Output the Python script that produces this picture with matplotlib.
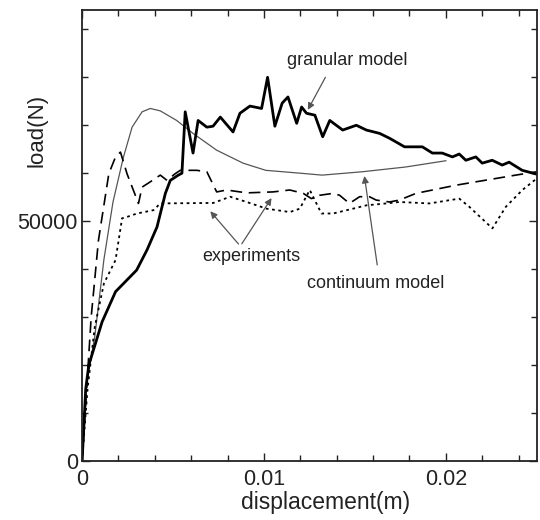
import numpy as np
import matplotlib
matplotlib.use("Agg")
import matplotlib.pyplot as plt
from matplotlib.ticker import MultipleLocator

plt.rcParams['font.family'] = ['Liberation Sans', 'DejaVu Sans']

# granular model (thick solid)
gran_x = [0, 0.0002, 0.00037, 0.0011, 0.00184, 0.0030, 0.00357, 0.00412, 0.00458, 0.00485,
          0.00529, 0.00549, 0.00567, 0.0061, 0.00638, 0.00686, 0.0072, 0.0076, 0.0083,
          0.00868, 0.00923, 0.00987, 0.0102, 0.0106, 0.0110, 0.01132, 0.0118, 0.01207,
          0.01234, 0.0128, 0.01323, 0.01362, 0.01433, 0.01508, 0.01563, 0.01636, 0.0169,
          0.01773, 0.01871, 0.01926, 0.0198, 0.02036, 0.02074, 0.0211, 0.02165, 0.022,
          0.02255, 0.0231, 0.02348, 0.0242, 0.025]
gran_y = [0, 15000, 20000, 29000, 35300, 39800, 44000, 48800, 55800, 58500,
          59600, 60000, 72800, 64200, 71000, 69600, 69800, 71700, 68600,
          72500, 74000, 73500, 80000, 69800, 74600, 75900, 70400, 73800,
          72500, 72100, 67600, 71000, 69000, 70000, 69000, 68300, 67300,
          65500, 65500, 64200, 64200, 63400, 64000, 62700, 63400, 62100,
          62700, 61700, 62300, 60600, 59800]

# continuum model (thin grey)
cont_x = [0, 0.0002, 0.0007, 0.0012, 0.0017, 0.00227, 0.00275, 0.0033, 0.00375, 0.0043,
          0.0052, 0.0061, 0.0074, 0.00885, 0.0101, 0.012, 0.0132, 0.0154, 0.0178, 0.020]
cont_y = [0, 15000, 26000, 42000, 54000, 63300, 69600, 72800, 73500, 73000,
          71000, 68300, 64800, 62100, 60600, 60000, 59600, 60300, 61300, 62600]

# experiment 1 (dashed)
exp1_x = [0, 0.0002, 0.0005, 0.0009, 0.00147, 0.00184, 0.00211, 0.00247, 0.0031, 0.0033,
          0.00375, 0.0043, 0.00467, 0.00512, 0.0054, 0.00631, 0.00686, 0.0074, 0.00795,
          0.00905, 0.0105, 0.01142, 0.01216, 0.01261, 0.01307, 0.0138, 0.01416, 0.0147,
          0.01526, 0.0158, 0.01617, 0.0169, 0.01745, 0.01836, 0.01927, 0.02056, 0.02165,
          0.02275, 0.02384, 0.025]
exp1_y = [0, 12000, 30000, 46000, 59900, 63400, 64400, 59900, 53700, 57100,
          58200, 59600, 58500, 59900, 60600, 60600, 60300, 56100, 56500,
          55900, 56100, 56500, 55800, 54700, 55400, 55800, 55400, 53700,
          55100, 55100, 54400, 54000, 54400, 55800, 56500, 57500, 58200,
          58900, 59600, 60300]

# experiment 2 (dotted)
exp2_x = [0, 0.0003, 0.0007, 0.0012, 0.00184, 0.0022, 0.00248, 0.00302, 0.00393, 0.0043,
          0.00722, 0.00814, 0.00905, 0.01015, 0.01142, 0.01197, 0.01252, 0.01316, 0.0138,
          0.01489, 0.01563, 0.01672, 0.01745, 0.0191, 0.02074, 0.02129, 0.02256, 0.0233,
          0.02421, 0.025]
exp2_y = [0, 15000, 28000, 37000, 41900, 50600, 50900, 51600, 52300, 53700,
          53800, 55100, 54000, 52600, 51900, 52600, 56500, 51600, 51600,
          52600, 53300, 53700, 54000, 53700, 54700, 53000, 48500, 53000,
          56500, 58900]

fig = plt.figure(figsize=(5.4, 5.2), dpi=100)
ax = fig.add_axes([0.152, 0.1135, 0.842, 0.867])

ax.plot(cont_x, cont_y, color='#555555', lw=0.9)
ax.plot(exp1_x, exp1_y, color='black', lw=1.2, dashes=(7, 4))
ax.plot(exp2_x, exp2_y, color='black', lw=1.3, dashes=(1.5, 2))
ax.plot(gran_x, gran_y, color='black', lw=2.0)

ax.set_xlim(0, 0.025)
ax.set_ylim(0, 94000)
ax.set_xticks([0, 0.01, 0.02])
ax.set_xticklabels(['0', '0.01', '0.02'])
ax.set_yticks([0, 50000])
ax.set_yticklabels(['0', '50000'])
ax.xaxis.set_minor_locator(MultipleLocator(0.002))
ax.yaxis.set_minor_locator(MultipleLocator(10000))
ax.tick_params(which='both', direction='in', top=True, right=True, labelsize=15.5,
               width=1.0, color='#222222', labelcolor='#222222')
ax.tick_params(which='major', length=6)
ax.tick_params(which='minor', length=4)
ax.tick_params(axis='x', which='major', pad=6)
ax.tick_params(axis='y', which='major', pad=3)
for s in ax.spines.values():
    s.set_linewidth(1.3)
    s.set_color('#222222')

ax.set_xlabel('displacement(m)', fontsize=16.5, color='#222222')
ax.xaxis.set_label_coords(0.536, -0.066)
ax.xaxis.label.set_va('top')
ax.set_ylabel('load(N)', fontsize=16, color='#222222')
ax.yaxis.set_label_coords(-0.077, 0.734)

arrow = dict(arrowstyle='-|>', color='#555555', lw=0.9, mutation_scale=10)
ax.text(0.01460, 83500, 'granular model', ha='center', va='center', fontsize=13,
        color='#222222')
ax.annotate('', xy=(0.01234, 72700), xytext=(0.01345, 80500), arrowprops=arrow)
ax.text(0.00930, 42700, 'experiments', ha='center', va='center', fontsize=13,
        color='#222222')
ax.annotate('', xy=(0.00695, 52500), xytext=(0.00870, 44800), arrowprops=arrow)
ax.annotate('', xy=(0.01050, 55300), xytext=(0.00870, 44800), arrowprops=arrow)
ax.text(0.01615, 37000, 'continuum model', ha='center', va='center', fontsize=13,
        color='#222222')
ax.annotate('', xy=(0.01550, 60000), xytext=(0.01625, 40300), arrowprops=arrow)

fig.savefig('out.png', dpi=100)
